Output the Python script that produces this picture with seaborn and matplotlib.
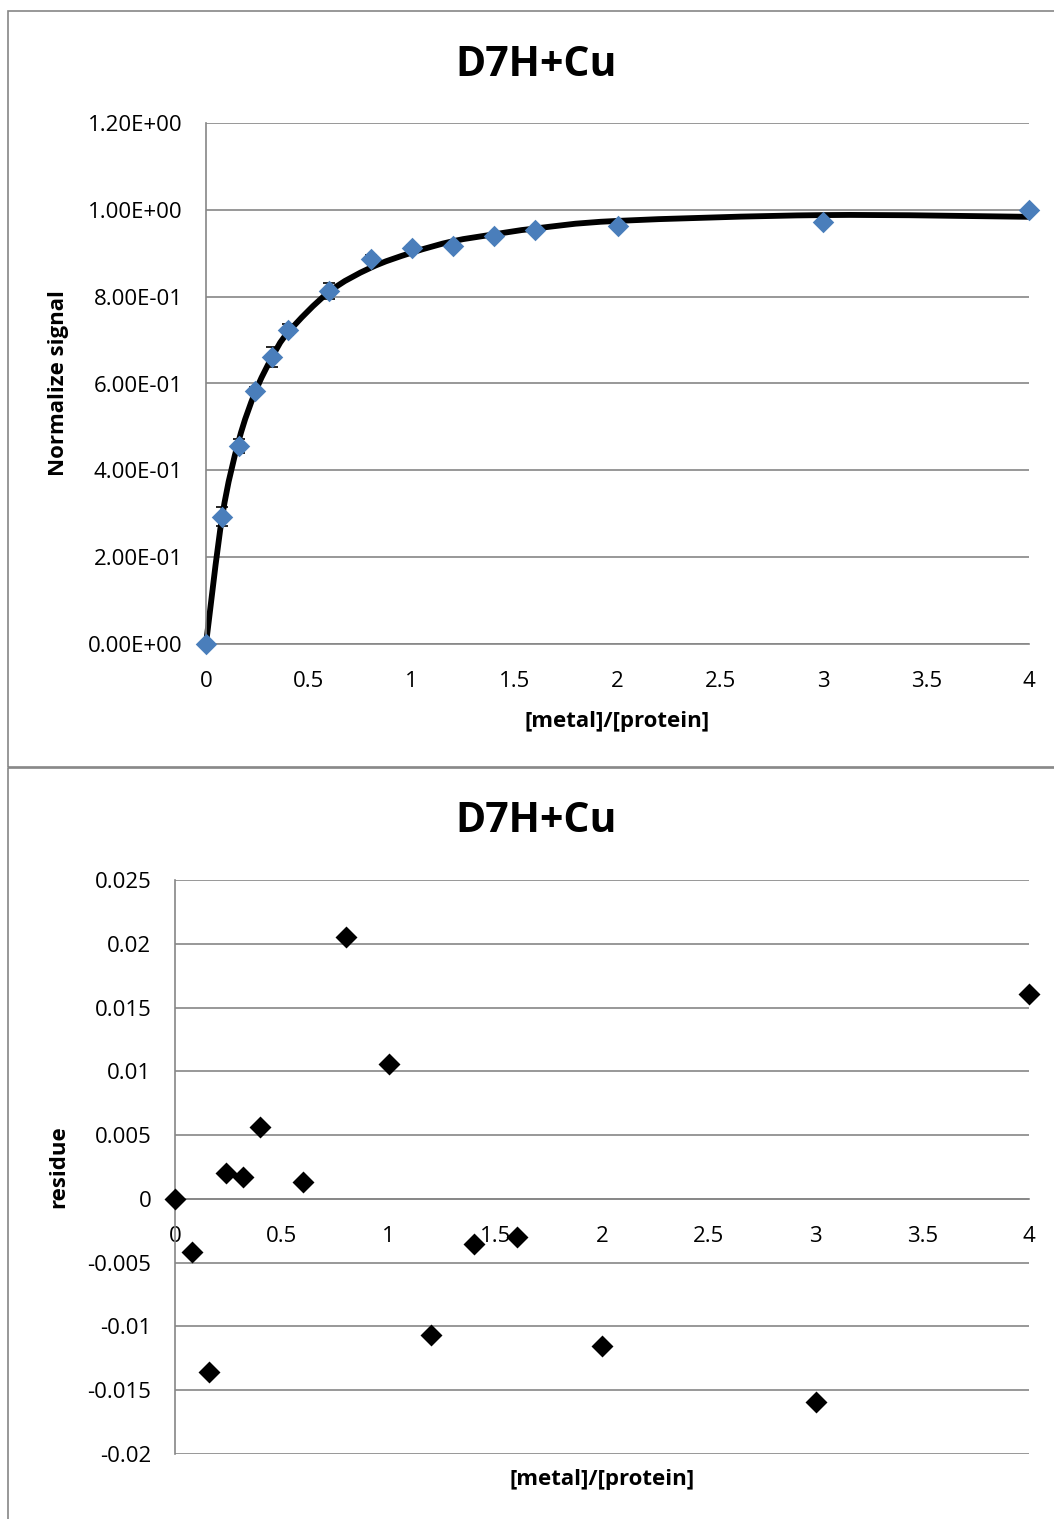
import numpy as np
import pandas as pd
import matplotlib
matplotlib.use("Agg")
import matplotlib.pyplot as plt
from matplotlib.path import Path
from matplotlib.patches import PathPatch, Rectangle
from matplotlib.ticker import FuncFormatter, MultipleLocator
import seaborn as sns

# Titration of D7H with Cu: metal/protein ratio, normalized signal, its error and fit residue
ratio = [0.0, 0.08, 0.16, 0.24, 0.32, 0.4, 0.6, 0.8, 1.0, 1.2, 1.4, 1.6, 2.0, 3.0, 4.0]
signal = [0.0, 0.293, 0.456, 0.583, 0.661, 0.724, 0.813, 0.887, 0.912, 0.917,
          0.940, 0.954, 0.963, 0.972, 1.0]
signal_err = [0.0, 0.022, 0.016, 0.010, 0.023, 0.012, 0.019, 0.008, 0.008, 0.006,
              0.006, 0.005, 0.005, 0.005, 0.0]
residue = [0.0, -0.0042, -0.0136, 0.0020, 0.0017, 0.0056, 0.0013, 0.0205, 0.0106,
           -0.0107, -0.0035, -0.0030, -0.0115, -0.0159, 0.0161]

title = "D7H+Cu"
x_label = "[metal]/[protein]"
top_y_label = "Normalize signal"
bottom_y_label = "residue"

df = pd.DataFrame({"ratio": ratio, "signal": signal, "err": signal_err, "residue": residue})
df["fit"] = df["signal"] - df["residue"]

sns.set_theme(style="white")
plt.rcParams["font.family"] = ["Open Sans", "DejaVu Sans"]
plt.rcParams["axes.axisbelow"] = True
for key in ("text.color", "axes.labelcolor", "xtick.color", "ytick.color"):
    plt.rcParams[key] = "black"

W, H = 1054, 1519
fig = plt.figure(figsize=(W / 100, H / 100), dpi=100)
fig.patch.set_facecolor("white")

GRID = "#868686"
BLUE = "#4A7EBB"
TICK_FS = 16
LABEL_FS = 16
TITLE_FS = 29.5


def fx(px):
    return px / W


def fy(py):
    return 1 - py / H


def style_axes(ax):
    for side in ("top", "right"):
        ax.spines[side].set_visible(False)
    for side in ("left", "bottom"):
        ax.spines[side].set_color(GRID)
        ax.spines[side].set_linewidth(1.2)
    ax.grid(axis="y", color=GRID, linewidth=1.2)
    ax.grid(axis="x", visible=False)
    ax.tick_params(length=0, labelsize=TICK_FS, colors="black")
    ax.set_facecolor("white")


def smooth_path(xs, ys):
    # cubic Bezier segments through the points, like a spreadsheet "smoothed line"
    p = np.column_stack([xs, ys]).astype(float)
    n = len(p)
    verts = [p[0]]
    codes = [Path.MOVETO]
    for i in range(n - 1):
        prev = p[i - 1] if i > 0 else p[i]
        nxt = p[i + 2] if i + 2 < n else p[i + 1]
        c1 = p[i] + (p[i + 1] - prev) / 6.0
        c2 = p[i + 1] - (nxt - p[i]) / 6.0
        verts += [c1, c2, p[i + 1]]
        codes += [Path.CURVE4] * 3
    return Path(verts, codes)


# chart frames
for (x0, y0, x1, y1) in [(8, 11, 1070, 767), (8, 768, 1070, 1530)]:
    fig.add_artist(Rectangle((fx(x0), fy(y1)), fx(x1) - fx(x0), fy(y0) - fy(y1),
                             transform=fig.transFigure, fill=False,
                             edgecolor=GRID, linewidth=1.2, clip_on=False))

# ---- top: normalized signal with fitted curve ----
ax1 = fig.add_axes([fx(206), fy(644), fx(1029) - fx(206), fy(123) - fy(644)])
style_axes(ax1)
ax1.set_xlim(0, 4)
ax1.set_ylim(0, 1.2)
ax1.xaxis.set_major_locator(MultipleLocator(0.5))
ax1.yaxis.set_major_locator(MultipleLocator(0.2))
ax1.xaxis.set_major_formatter(FuncFormatter(lambda v, _: f"{v:g}"))
ax1.yaxis.set_major_formatter(FuncFormatter(lambda v, _: f"{v:.2E}"))
ax1.tick_params(axis="x", pad=19.5)
ax1.tick_params(axis="y", pad=17)

ax1.add_patch(PathPatch(smooth_path(df["ratio"], df["fit"]), facecolor="none",
                        edgecolor="black", linewidth=4.2, zorder=2, clip_on=False,
                        capstyle="round"))
ax1.errorbar(df["ratio"], df["signal"], yerr=df["err"], fmt="none", ecolor="black",
             elinewidth=1.2, capsize=4.5, capthick=1.2, zorder=3, clip_on=False)
sns.scatterplot(data=df, x="ratio", y="signal", ax=ax1, marker="D", s=120,
                color=BLUE, linewidth=0, zorder=4, clip_on=False)
ax1.set_xlabel(x_label, fontsize=LABEL_FS, fontweight="bold", va="top")
ax1.xaxis.set_label_coords(0.5, -0.129)
ax1.set_ylabel(top_y_label, fontsize=LABEL_FS, fontweight="bold")
ax1.yaxis.set_label_coords(-0.166, 0.5)
fig.text(fx(536), fy(65), title, fontsize=TITLE_FS, fontweight="bold",
         ha="center", va="center")

# ---- bottom: residue of the fit ----
ax2 = fig.add_axes([fx(175), fy(1454), fx(1029) - fx(175), fy(880) - fy(1454)])
style_axes(ax2)
ax2.set_xlim(0, 4)
ax2.set_ylim(-0.02, 0.025)
ax2.spines["bottom"].set_position(("data", 0))
ax2.xaxis.set_major_locator(MultipleLocator(0.5))
ax2.yaxis.set_major_locator(MultipleLocator(0.005))
ax2.xaxis.set_major_formatter(FuncFormatter(lambda v, _: f"{v:g}"))
ax2.yaxis.set_major_formatter(FuncFormatter(lambda v, _: f"{round(v, 4) + 0:g}"))
ax2.tick_params(axis="x", pad=19.5)
ax2.tick_params(axis="y", pad=17)
sns.scatterplot(data=df, x="ratio", y="residue", ax=ax2, marker="D", s=125,
                color="black", linewidth=0, zorder=4, clip_on=False)
ax2.set_xlabel(x_label, fontsize=LABEL_FS, fontweight="bold", va="top")
ax2.xaxis.set_label_coords(0.5, -0.027)
ax2.set_ylabel(bottom_y_label, fontsize=LABEL_FS, fontweight="bold")
ax2.yaxis.set_label_coords(-0.124, 0.5)
fig.text(fx(536), fy(822), title, fontsize=TITLE_FS, fontweight="bold",
         ha="center", va="center")

fig.savefig("out.png", dpi=100, facecolor="white")
